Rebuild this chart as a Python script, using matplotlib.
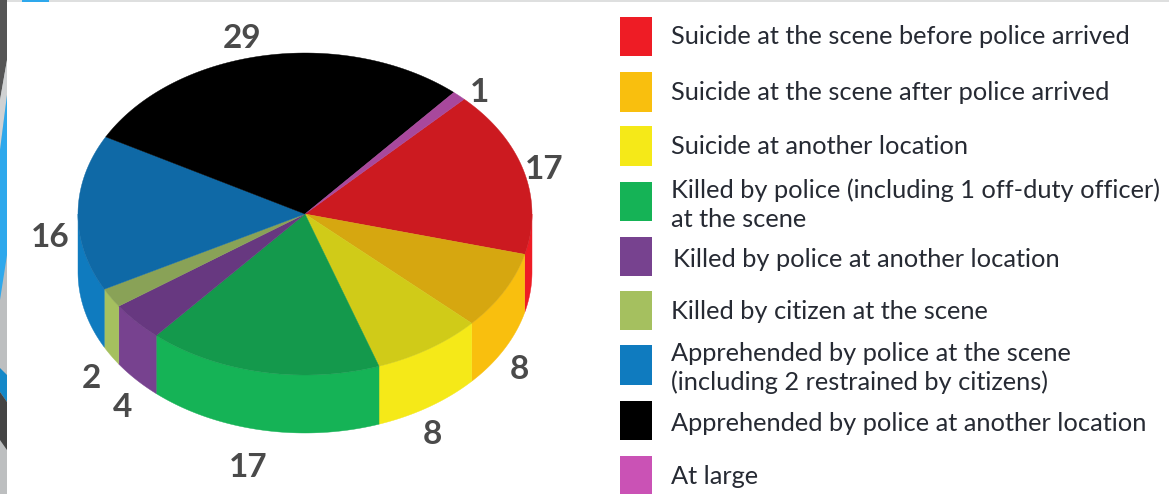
import numpy as np
import matplotlib
matplotlib.use("Agg")
import matplotlib.pyplot as plt

values = [17, 8, 8, 17, 4, 2, 16, 29, 1]
value_labels = ["17", "8", "8", "17", "4", "2", "16", "29", "1"]
categories = [
    "Suicide at the scene before police arrived",
    "Suicide at the scene after police arrived",
    "Suicide at another location",
    "Killed by police (including 1 off-duty officer)\nat the scene",
    "Killed by police at another location",
    "Killed by citizen at the scene",
    "Apprehended by police at the scene\n(including 2 restrained by citizens)",
    "Apprehended by police at another location",
    "At large",
]
top_colors = ["#CC1A20", "#D6A710", "#D0CB18", "#14994C", "#673880", "#89A257", "#0F69A6", "#000000", "#A8489C"]
side_colors = ["#EE1C25", "#F9BF0E", "#F5E918", "#15B356", "#77428F", "#A5C05F", "#0F7BBF", "#000000", "#CA52B5"]
swatch_colors = ["#EE1C25", "#F9BF0E", "#F5E918", "#15B356", "#77428F", "#A5C05F", "#0F7BBF", "#000000", "#CA52B5"]

# layout in pixels
CX, CY, RX, RY, DEPTH = 305, 214, 227, 161, 58
START = 45.5
swatch_top = [17, 72, 126, 182, 237, 291, 345, 401, 456]
swatch_h = [39, 40, 40, 39, 39, 39, 40, 39, 38]
legend_y = [37, 93, 146, 205, 259, 311, 368, 423, 476]
legend_x = [671, 671, 671, 671, 673, 671, 671, 671, 671]
label_xy = [(544, 169), (519, 369), (432, 434), (248, 467), (123, 407), (91, 378), (50, 237), (242, 39), (480, 92)]

legend_font = "Lato"
num_font = "Lato"

fig = plt.figure(figsize=(11.69, 4.94), dpi=100, facecolor="white")
ax = fig.add_axes([0, 0, 1, 1])
ax.set_xlim(0, 1169)
ax.set_ylim(494, 0)
ax.axis("off")

# slide background remnants at the left and top edge
ax.fill([0, 1169, 1169, 0], [0, 0, 2, 2], color="#DEDFDF", lw=0)
ax.fill([22, 49, 49, 22], [0, 0, 2, 2], color="#2EA8EC", lw=0)
ax.fill([0, 7, 7, 0], [0, 0, 494, 494], color="#BDBFC0", lw=0)
ax.fill([0, 7, 7, 0], [0, 0, 60, 100], color="#555555", lw=0)
ax.fill([0, 7, 7, 0], [100, 60, 95, 150], color="#D0D2D3", lw=0)
ax.fill([0, 7, 7, 0], [150, 95, 255, 300], color="#2EA8EC", lw=0)
ax.fill([0, 7, 7, 0], [368, 375, 402, 392], color="#1488C8", lw=0)
ax.fill([0, 7, 7, 0], [392, 402, 450, 440], color="#444444", lw=0)

fractions = np.array(values, dtype=float) / sum(values)
edges = START - 360 * np.concatenate([[0], np.cumsum(fractions)])


def rim(a0, a1, n=80):
    t = np.radians(np.linspace(a0, a1, n))
    return CX + RX * np.cos(t), CY - RY * np.sin(t)


# side walls: only the part of each slice on the front of the disc
for i in range(len(values)):
    hi, lo = edges[i], edges[i + 1]
    hi2, lo2 = min(hi, 0), max(lo, -180)
    if hi2 <= lo2:
        continue
    x, y = rim(hi2, lo2)
    ax.fill(np.r_[x, x[::-1]], np.r_[y, y[::-1] + DEPTH],
            color=side_colors[i], lw=0.3, zorder=2)

# top face
for i in range(len(values)):
    x, y = rim(edges[i], edges[i + 1])
    ax.fill(np.r_[CX, x], np.r_[CY, y], color=top_colors[i], lw=0.3, zorder=3)

for (x, y), s in zip(label_xy, value_labels):
    ax.text(x, y, s, ha="center", va="center", fontsize=24, fontweight="bold",
            family=num_font, color="#4A4A4A")

# legend
for i, cat in enumerate(categories):
    t, h = swatch_top[i], swatch_h[i]
    ax.fill([620, 652, 652, 620], [t, t, t + h, t + h], color=swatch_colors[i], lw=0)
    ax.text(legend_x[i], legend_y[i], cat, ha="left", va="center", fontsize=18.3,
            family=legend_font, color="#262A33", linespacing=1.32)

fig.savefig("out.png", dpi=100)
